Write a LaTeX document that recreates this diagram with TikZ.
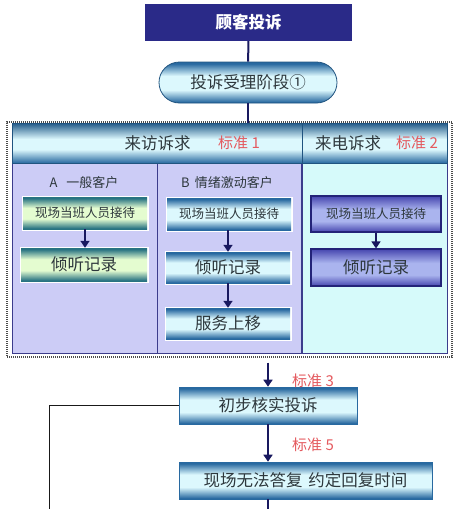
\documentclass[tikz,border=0pt]{standalone}
\usepackage{fontspec}
\setmainfont{Noto Sans CJK SC}
\usetikzlibrary{arrows.meta,shapes.misc}
\definecolor{navy}{RGB}{42,42,136}
\definecolor{lav}{RGB}{204,204,246}
\definecolor{lcyan}{RGB}{214,250,250}
\definecolor{edgeb}{RGB}{40,105,160}
\definecolor{midc}{RGB}{220,248,253}
\definecolor{midg}{RGB}{228,252,208}
\definecolor{edgeg}{RGB}{40,115,130}
\definecolor{cedge}{RGB}{70,70,175}
\definecolor{cmid}{RGB}{170,180,238}
\definecolor{cborder}{RGB}{35,35,120}
\definecolor{redt}{RGB}{228,90,95}
\definecolor{arr}{RGB}{25,25,95}
\definecolor{txt}{RGB}{45,55,60}
\definecolor{pborder}{RGB}{60,60,140}
\pgfdeclareverticalshading{bsh}{100bp}{color(0bp)=(edgeb); color(26bp)=(edgeb); color(41bp)=(midc); color(58bp)=(midc); color(73bp)=(edgeb); color(100bp)=(edgeb)}
\pgfdeclareverticalshading{gsh}{100bp}{color(0bp)=(edgeg); color(26bp)=(edgeg); color(41bp)=(midg); color(58bp)=(midg); color(73bp)=(edgeg); color(100bp)=(edgeg)}
\pgfdeclareverticalshading{csh}{100bp}{color(0bp)=(cedge); color(25bp)=(cedge); color(40bp)=(cmid); color(56bp)=(cmid); color(75bp)=(cedge); color(100bp)=(cedge)}
\pgfdeclareverticalshading{hsh}{100bp}{color(0bp)=(edgeb); color(25bp)=(edgeb); color(42bp)=(midc); color(55bp)=(midc); color(75bp)=(edgeb!85!black); color(100bp)=(edgeb!85!black)}
\tikzset{
  base/.style={rectangle, inner sep=0pt, text=txt},
  bigtxt/.style={font=\fontsize{16.5}{18}\selectfont},
  smalltxt/.style={font=\fontsize{12.5}{14}\selectfont},
  halo/.style={preaction={draw=white, line width=3pt}},
  bbox/.style={base, halo, shading=bsh},
  abox/.style={base, halo, shading=gsh},
  cbox/.style={base, draw=cborder, line width=1.2pt, shading=csh},
  mbox/.style={base, shading=bsh, draw=edgeb, line width=0.6pt},
  hdr/.style={base, draw=edgeb!80!black, line width=0.6pt, shading=hsh},
  panel/.style={rectangle, inner sep=0pt, draw=pborder, line width=0.8pt},
  arrowc/.style={draw=arr, line width=1.6pt, -{Triangle[length=7pt,width=9pt]}},
  plain/.style={draw=black!90, line width=1pt},
  redlab/.style={text=redt, inner sep=0pt, font=\fontsize{15}{17}\selectfont},
}
\begin{document}
\begin{tikzpicture}[x=1pt,y=1pt]
\useasboundingbox (0,0) rectangle (460,-509);
% top
\node[rectangle, fill=navy, text=white, minimum width=207pt, minimum height=37pt, inner sep=0pt, font=\fontsize{16.5}{18}\selectfont\bfseries] (top) at (248.5,-22.5) {顾客投诉};
\node[rounded rectangle, draw=edgeb!80!black, line width=0.8pt, shading=bsh, text=txt, minimum width=178pt, minimum height=41pt, inner sep=0pt, bigtxt] (pill) at (248,-82.5) {投诉受理阶段①};
\draw[draw=arr, line width=2pt] (top) -- (pill);
% frame
\node[rectangle, draw=black!70, line width=1.2pt, dash pattern=on 1pt off 1pt, minimum width=445pt, minimum height=235pt, inner sep=0pt] (frame) at (229.5,-239.5) {};
% panels
\node[panel, fill=lav, minimum width=145pt, minimum height=190pt] (pA) at (84.5,-258) {};
\node[panel, fill=lav, minimum width=144pt, minimum height=190pt] (pB) at (229.5,-258) {};
\node[panel, fill=lcyan, minimum width=145pt, minimum height=190pt] (pC) at (374.5,-258) {};
% header
\node[hdr, minimum width=290pt, minimum height=40pt] (hL) at (157,-143) {};
\node[hdr, minimum width=145pt, minimum height=40pt] (hR) at (374.5,-143) {};
\draw[draw=arr, line width=2pt] (pill.south) -- (pill.south |- hL.north);
\node[text=txt, inner sep=0pt, bigtxt] (hLt) at (157.5,-143) {来访诉求};
\node[redlab] (s1) at (239,-143) {标准 1};
\node[text=txt, inner sep=0pt, bigtxt] (hRt) at (348,-143) {来电诉求};
\node[redlab] (s2) at (417,-143) {标准 2};
% panel labels
\node[text=txt, inner sep=0pt, font=\fontsize{13}{15}\selectfont] (la) at (84,-183) {A\hspace{9pt}一般客户};
\node[text=txt, inner sep=0pt, font=\fontsize{13}{15}\selectfont] (lb) at (227,-183) {B\hspace{5pt}情绪激动客户};
% A boxes
\node[abox, smalltxt, minimum width=124pt, minimum height=32pt] (a1) at (85,-213) {现场当班人员接待};
\node[abox, bigtxt, minimum width=126pt, minimum height=33pt] (a2) at (84,-264.5) {倾听记录};
\draw[arrowc] (a1.south) -- (a1.south |- a2.north);
% B boxes
\node[bbox, smalltxt, minimum width=124pt, minimum height=32pt] (b1) at (229,-214) {现场当班人员接待};
\node[bbox, bigtxt, minimum width=124pt, minimum height=31pt] (b2) at (228,-267.5) {倾听记录};
\node[bbox, bigtxt, minimum width=124pt, minimum height=31pt] (b3) at (228,-323.5) {服务上移};
\draw[arrowc] (b1.south -| b2.north) -- (b2.north);
\draw[arrowc] (b2.south) -- (b3.north);
% C boxes
\node[cbox, smalltxt, minimum width=130pt, minimum height=36pt] (c1) at (376,-214) {现场当班人员接待};
\node[cbox, bigtxt, minimum width=130pt, minimum height=37pt] (c2) at (376,-267.5) {倾听记录};
\draw[arrowc] (c1.south) -- (c2.north);
% lower flow
\node[mbox, bigtxt, minimum width=178pt, minimum height=37pt] (check) at (268,-405.5) {初步核实投诉};
\node[mbox, bigtxt, minimum width=253pt, minimum height=37pt] (reply) at (305.5,-480.5) {现场无法答复\hspace{6pt}约定回复时间};
\draw[arrowc, shorten <=5pt] (frame.south -| check.north) -- (check.north);
\draw[arrowc] (check.south) -- (check.south |- reply.north);
\node[redlab] (s3) at (313,-381) {标准 3};
\node[redlab] (s5) at (313,-445) {标准 5};
\coordinate (lc) at (49.5,-406);
\coordinate (lbot) at (49.5,-509);
\draw[plain] (check.west) -- (check.west -| lc) -- (lbot);
\coordinate (rbot) at (268,-509);
\draw[draw=arr, line width=1.6pt] (rbot |- reply.south) -- (rbot);
\end{tikzpicture}
\end{document}
